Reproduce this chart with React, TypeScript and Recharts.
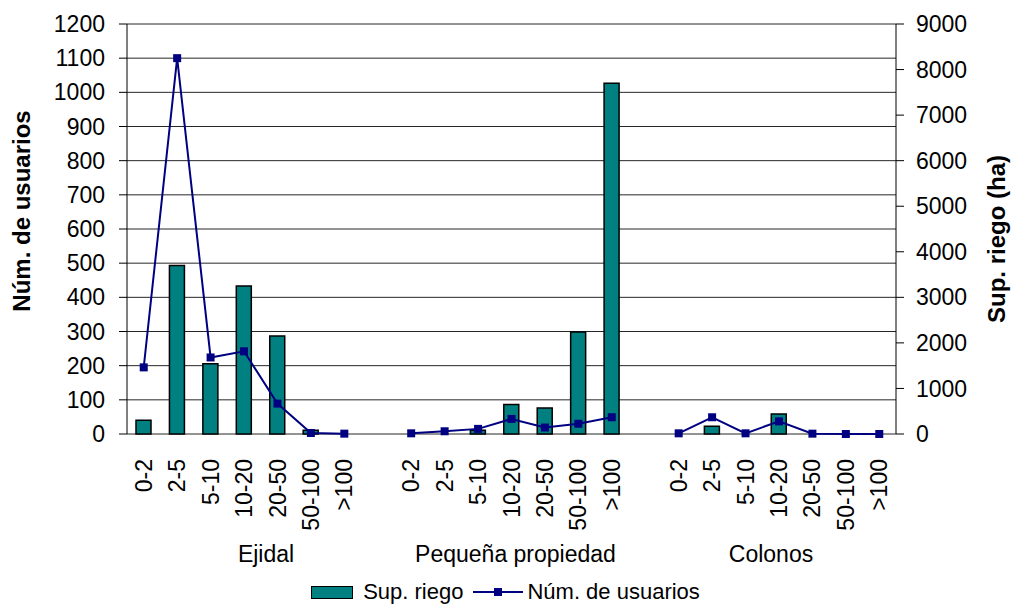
import React from "react";
import {
  ComposedChart,
  Bar,
  Line,
  XAxis,
  YAxis,
  CartesianGrid,
  Legend,
} from "recharts";

// clases de superficie (ha) en cada grupo de tenencia
const grupos = ["Ejidal", "Pequeña propiedad", "Colonos"];
const clases = ["0-2", "2-5", "5-10", "10-20", "20-50", "50-100", ">100"];

// Sup. riego (ha), eje derecho
const supRiegoEjidal = [300, 3700, 1540, 3250, 2150, 80, 0];
const supRiegoPequena = [0, 0, 80, 650, 570, 2240, 7700];
const supRiegoColonos = [0, 170, 0, 440, 0, 0, 0];

// Núm. de usuarios, eje izquierdo
const usuariosEjidal = [195, 1100, 224, 242, 89, 3, 1];
const usuariosPequena = [2, 8, 15, 44, 19, 30, 49];
const usuariosColonos = [2, 49, 2, 37, 1, 0, 0];

const ticksUsuarios = [0, 100, 200, 300, 400, 500, 600, 700, 800, 900, 1000, 1100, 1200];
const ticksSup = [0, 1000, 2000, 3000, 4000, 5000, 6000, 7000, 8000, 9000];

const FONT = "'Liberation Sans', Arial, sans-serif";
const TEAL = "#008080";
const NAVY = "#000080";
// pequeño ajuste horizontal del nombre de cada grupo (px)
const AJUSTE_GRUPO = [22, 4, -8];

type Row = { clase: string; grupo: string; sup: number | null; usuarios: number | null };

// tabla para recharts: una fila vacía separa los grupos
const buildData = (): Row[] => {
  const sup = [supRiegoEjidal, supRiegoPequena, supRiegoColonos];
  const usu = [usuariosEjidal, usuariosPequena, usuariosColonos];
  const rows: Row[] = [];
  grupos.forEach((g, gi) => {
    clases.forEach((c, ci) => {
      rows.push({ clase: c, grupo: g, sup: sup[gi][ci], usuarios: usu[gi][ci] });
    });
    if (gi < grupos.length - 1) rows.push({ clase: "", grupo: g, sup: null, usuarios: null });
  });
  return rows;
};

const data = buildData();
const limites = Array.from({ length: data.length + 1 }, (_, i) => i);

// índice de la fila donde se centra el nombre de cada grupo
const centroGrupo = (g: string) => {
  const idx = data.map((d, i) => (d.grupo === g && d.clase !== "" ? i : -1)).filter((i) => i >= 0);
  return (idx[0] + idx[idx.length - 1]) / 2;
};
const centros = grupos.map(centroGrupo);

const CategoryTick = (props: any) => {
  const { x, y, payload, index } = props;
  const half = payload?.offset ?? 0;
  const labels = grupos
    .map((g, gi) => ({ g, c: centros[gi], dx: AJUSTE_GRUPO[gi] }))
    .filter(({ c }) => Math.floor(c) === index);
  return (
    <g>
      {payload.value !== "" && (
        <text
          x={x}
          y={y + 23}
          transform={`rotate(-90, ${x}, ${y + 23})`}
          textAnchor="end"
          dy="0.35em"
          fontSize={23}
          fontFamily={FONT}
          fill="#000"
        >
          {payload.value}
        </text>
      )}
      {labels.map(({ g, c, dx }) => (
        <text
          key={g}
          x={x + (c - index) * 2 * half + dx}
          y={y + 126}
          textAnchor="middle"
          fontSize={23}
          fontFamily={FONT}
          fill="#000"
        >
          {g}
        </text>
      ))}
    </g>
  );
};

const SquareDot = (props: any) => {
  const { cx, cy, value, index } = props;
  if (value == null || cx == null || cy == null) return <g key={`d-${index}`} />;
  return <rect key={`d-${index}`} x={cx - 4} y={cy - 4} width={8} height={8} fill={NAVY} />;
};

const LeyendaContent = () => (
  <div
    style={{
      display: "flex",
      justifyContent: "center",
      alignItems: "center",
      fontFamily: FONT,
      fontSize: 22,
      color: "#000",
      lineHeight: "24px",
    }}
  >
    <span
      style={{
        display: "inline-block",
        width: 40,
        height: 11,
        background: TEAL,
        border: "1.5px solid #000",
        marginRight: 10,
      }}
    />
    <span>Sup. riego</span>
    <svg width={50} height={12} style={{ margin: "0 4px 0 10px" }}>
      <line x1={0} y1={6} x2={50} y2={6} stroke={NAVY} strokeWidth={2} />
      <rect x={21} y={2} width={8} height={8} fill={NAVY} />
    </svg>
    <span>Núm. de usuarios</span>
  </div>
);

const TituloY = (text: string, side: "left" | "right") => (props: any) => {
  const vb = props.viewBox;
  const cx = side === "left" ? vb.x + 22 : vb.x + vb.width - 14;
  const cy = vb.y + vb.height / 2 + (side === "left" ? -18 : 10);
  return (
    <text
      x={cx}
      y={cy}
      transform={`rotate(-90, ${cx}, ${cy})`}
      textAnchor="middle"
      dy="0.35em"
      fontSize={24}
      fontWeight="bold"
      fontFamily={FONT}
      fill="#000"
    >
      {text}
    </text>
  );
};

export default function App() {
  return (
    <div style={{ position: "absolute", left: 0, top: 0, background: "#fff" }}>
      <ComposedChart
        width={1011}
        height={607}
        data={data}
        margin={{ top: 24, right: 0, bottom: 0, left: 0 }}
      >
        <XAxis
          xAxisId="limites"
          type="number"
          domain={[0, data.length]}
          ticks={limites}
          interval={0}
          allowDataOverflow
          height={0}
          tickSize={8}
          tick={() => <g />}
          stroke="#000"
        />
        <XAxis
          xAxisId="cat"
          dataKey="clase"
          interval={0}
          height={173}
          tickSize={0}
          tickLine={false}
          axisLine={false}
          tick={<CategoryTick />}
        />
        <YAxis
          yAxisId="left"
          domain={[0, 1200]}
          ticks={ticksUsuarios}
          interval={0}
          width={127}
          tickSize={8}
          tickMargin={14}
          stroke="#000"
          tick={{ fill: "#000", fontSize: 23, fontFamily: FONT }}
          label={{ content: TituloY("Núm. de usuarios", "left") }}
        />
        <YAxis
          yAxisId="right"
          orientation="right"
          domain={[0, 9000]}
          ticks={ticksSup}
          interval={0}
          width={115}
          tickSize={8}
          tickMargin={12}
          stroke="#000"
          tick={{ fill: "#000", fontSize: 23, fontFamily: FONT }}
          label={{ content: TituloY("Sup. riego (ha)", "right") }}
        />
        <CartesianGrid
          xAxisId="cat"
          yAxisId="left"
          vertical={false}
          stroke="#000"
          strokeOpacity={0.85}
        />
        <Bar
          xAxisId="cat"
          yAxisId="right"
          dataKey="sup"
          name="Sup. riego"
          barSize={15}
          fill={TEAL}
          stroke="#000"
          strokeWidth={1.5}
          isAnimationActive={false}
        />
        <Line
          xAxisId="cat"
          yAxisId="left"
          dataKey="usuarios"
          name="Núm. de usuarios"
          stroke={NAVY}
          strokeWidth={2}
          dot={SquareDot}
          activeDot={false}
          connectNulls={false}
          isAnimationActive={false}
        />
        <Legend
          layout="horizontal"
          verticalAlign="middle"
          align="center"
          wrapperStyle={{ top: 580, left: 0, width: 1011 }}
          content={<LeyendaContent />}
        />
      </ComposedChart>
    </div>
  );
}
